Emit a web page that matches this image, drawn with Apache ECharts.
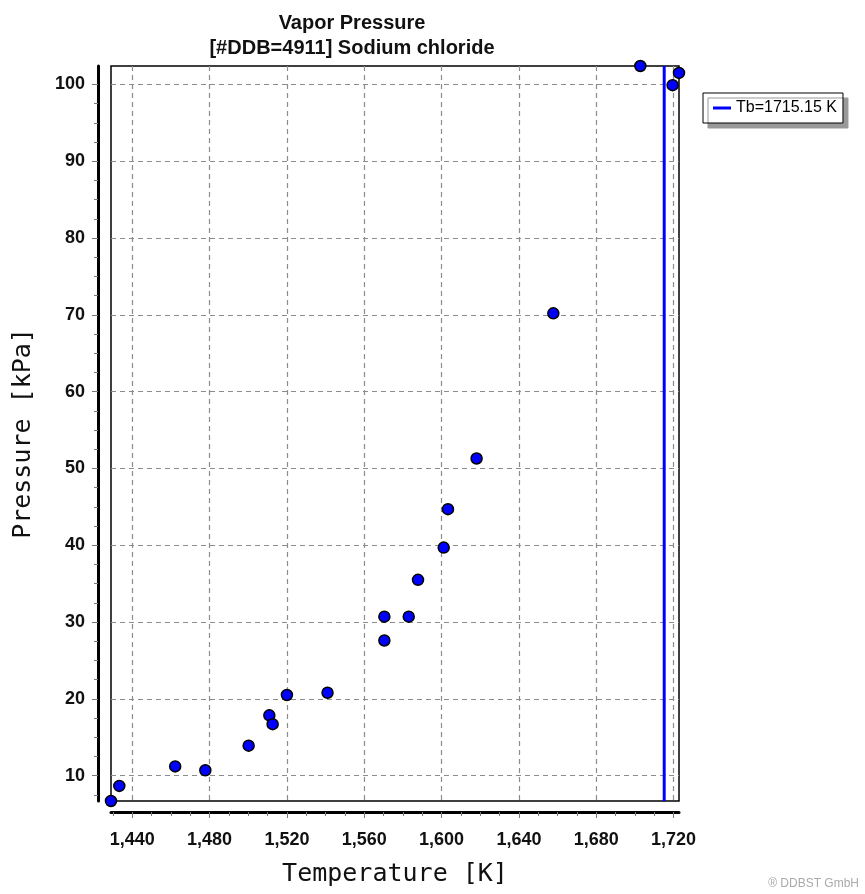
<!DOCTYPE html>
<html><head><meta charset="utf-8">
<script src="https://cdn.jsdelivr.net/npm/echarts@6/dist/echarts.min.js"></script>
<style>html,body{margin:0;padding:0;background:#fff}#c{width:865px;height:894px}</style>
</head><body><div id="c"></div>
<script>
const temperatureK = [1429.0, 1433.3, 1462.2, 1477.8, 1500.2, 1510.9, 1512.6, 1520.0, 1541.0, 1570.4, 1570.4, 1583.0, 1587.8, 1601.1, 1603.3, 1618.1, 1657.8, 1702.8, 1719.5, 1722.8];
const pressureKPa = [6.7, 8.66, 11.2, 10.7, 13.9, 17.85, 16.7, 20.5, 20.8, 30.7, 27.6, 30.7, 35.5, 39.7, 44.7, 51.3, 70.2, 102.4, 99.9, 101.5];
const tbK = 1715.15;
const tbLabel = 'Tb=1715.15 K';
const xRange = [1429.0, 1722.8];
const yRange = [6.7, 102.4];
const xLabelTicks = [1440, 1480, 1520, 1560, 1600, 1640, 1680, 1720];
const xMinorTicks = [1430, 1440, 1450, 1460, 1470, 1480, 1490, 1500, 1510, 1520, 1530, 1540, 1550, 1560, 1570, 1580, 1590, 1600, 1610, 1620, 1630, 1640, 1650, 1660, 1670, 1680, 1690, 1700, 1710, 1720];
const yLabelTicks = [10, 20, 30, 40, 50, 60, 70, 80, 90, 100];
const yMinorTicks = [7.5, 10, 12.5, 15, 17.5, 20, 22.5, 25, 27.5, 30, 32.5, 35, 37.5, 40, 42.5, 45, 47.5, 50, 52.5, 55, 57.5, 60, 62.5, 65, 67.5, 70, 72.5, 75, 77.5, 80, 82.5, 85, 87.5, 90, 92.5, 95, 97.5, 100];

const points = temperatureK.map((t, i) => [t, pressureKPa[i]]);
const gridLineStyle = { color: '#8c8c8c', width: 1.2, type: [5, 4] };
const tickStyle = { color: '#777', width: 1 };
const labelFont = { fontFamily: 'Liberation Sans', fontWeight: 'bold', fontSize: 18, color: '#111' };
const nameFont = { fontFamily: 'DejaVu Sans Mono', fontSize: 25, color: '#111' };
const chart = echarts.init(document.getElementById('c'), null, { renderer: 'canvas' });
chart.setOption({
  animation: false,
  backgroundColor: '#fff',
  title: {
    text: 'Vapor Pressure\n[#DDB=4911] Sodium chloride',
    left: 347, top: 6, textAlign: 'center',
    textStyle: { fontFamily: 'Liberation Sans', fontWeight: 'bold', fontSize: 20, lineHeight: 25, color: '#111' }
  },
  legend: {
    left: 703, top: 93,
    data: [tbLabel],
    padding: [7, 6, 7, 10],
    itemWidth: 18, itemHeight: 3,
    icon: 'rect',
    backgroundColor: '#fff',
    borderColor: '#000', borderWidth: 1,
    shadowColor: '#999', shadowOffsetX: 5, shadowOffsetY: 5, shadowBlur: 0,
    textStyle: { fontFamily: 'Liberation Sans', fontSize: 16, color: '#000' },
    selectedMode: false
  },
  grid: {
    left: 111, top: 66, width: 568, height: 735,
    show: true, borderColor: '#000', borderWidth: 1.5, backgroundColor: 'transparent'
  },
  xAxis: [{
    type: 'value', min: xRange[0], max: xRange[1], offset: 11, position: 'bottom',
    name: 'Temperature [K]', nameLocation: 'middle', nameGap: 50, nameTextStyle: nameFont,
    axisLine: { show: true, onZero: false, lineStyle: { color: '#000', width: 3 } },
    axisTick: { show: true, customValues: xLabelTicks, length: 6, lineStyle: tickStyle },
    axisLabel: Object.assign({ customValues: xLabelTicks, margin: 19,
      formatter: v => Math.round(v).toLocaleString('en-US') }, labelFont),
    splitLine: { show: true, lineStyle: gridLineStyle }
  }, {
    type: 'value', min: xRange[0], max: xRange[1], offset: 11, position: 'bottom',
    axisLine: { show: false, onZero: false },
    axisTick: { show: true, customValues: xMinorTicks, length: 4, lineStyle: tickStyle },
    axisLabel: { show: false },
    splitLine: { show: false }
  }],
  yAxis: [{
    type: 'value', min: yRange[0], max: yRange[1], offset: 13, position: 'left',
    name: 'Pressure [kPa]', nameLocation: 'middle', nameGap: 62, nameTextStyle: nameFont,
    axisLine: { show: true, onZero: false, lineStyle: { color: '#000', width: 3 } },
    axisTick: { show: true, customValues: yLabelTicks, length: 6, lineStyle: tickStyle },
    axisLabel: Object.assign({ customValues: yLabelTicks, margin: 13 }, labelFont),
    splitLine: { show: true, lineStyle: gridLineStyle }
  }, {
    type: 'value', min: yRange[0], max: yRange[1], offset: 13, position: 'left',
    axisLine: { show: false, onZero: false },
    axisTick: { show: true, customValues: yMinorTicks, length: 4, lineStyle: tickStyle },
    axisLabel: { show: false },
    splitLine: { show: false }
  }],
  graphic: [{
    type: 'text', right: 6, bottom: 4,
    style: { text: '® DDBST GmbH', fill: '#aaa', font: '12px "Liberation Sans"' }
  }],
  series: [
    {
      name: tbLabel, type: 'line', symbol: 'none', silent: true,
      data: [[tbK, yRange[0]], [tbK, yRange[1]]],
      lineStyle: { color: '#0000ff', width: 3 }, itemStyle: { color: '#0000ff' }, z: 3
    },
    {
      name: 'data', type: 'scatter', clip: false, symbol: 'circle', symbolSize: 11,
      data: points,
      itemStyle: { color: '#0000ff', borderColor: '#000', borderWidth: 1.5, opacity: 1 }, z: 4
    }
  ]
});
</script></body></html>
